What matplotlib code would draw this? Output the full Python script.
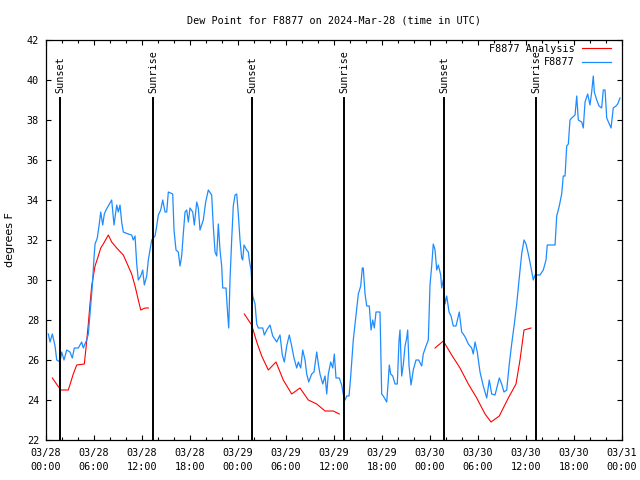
import numpy as np
import matplotlib
matplotlib.use("Agg")
import matplotlib.pyplot as plt

# hours since 2024-03-28 00:00 UTC
obs_hours = [0.29, 0.5, 0.79, 1.13, 1.34, 1.75, 1.96, 2.25, 2.59, 3.0, 3.29, 3.54, 4.04, 4.46, 4.66,
             5.09, 5.29, 5.5, 5.79, 6.0, 6.13, 6.41, 6.66, 6.84, 7.09, 7.29, 7.5, 7.79, 8.21, 8.5,
             8.84, 9.04, 9.25, 9.46, 9.66, 10.29, 10.71, 10.91, 11.13, 11.34, 11.54, 11.84, 12.09,
             12.29, 12.59, 12.79, 13.21, 13.63, 13.84, 14.04, 14.34, 14.59, 14.88, 15.09, 15.29,
             15.84, 16.0, 16.25, 16.54, 16.75, 16.96, 17.16, 17.38, 17.59, 17.79, 18.0, 18.34,
             18.54, 18.84, 19.04, 19.25, 19.46, 19.66, 19.96, 20.29, 20.71, 20.91, 21.13, 21.34,
             21.54, 21.75, 21.96, 22.09, 22.5, 22.71, 22.84, 23.0, 23.21, 23.41, 23.63, 23.84,
             24.04, 24.25, 24.46, 24.59, 24.75, 25.09, 25.29, 25.41, 25.63, 25.75, 25.84, 26.13,
             26.34, 26.54, 27.09, 27.29, 27.59, 28.0, 28.34, 28.84, 29.25, 29.54, 29.79, 30.09,
             30.41, 30.71, 31.0, 31.34, 31.54, 31.84, 32.09, 32.38, 32.59, 32.84, 33.21, 33.5,
             33.84, 34.04, 34.25, 34.59, 34.88, 35.09, 35.29, 35.59, 35.84, 36.04, 36.25, 36.66,
             36.96, 37.16, 37.38, 37.59, 37.88, 38.09, 38.41, 38.75, 39.04, 39.34, 39.54, 39.66,
             39.88, 40.09, 40.41, 40.63, 40.84, 41.04, 41.25, 41.75, 41.96, 42.16, 42.59, 42.79,
             42.91, 43.09, 43.34, 43.63, 43.91, 44.13, 44.25, 44.46, 44.66, 44.88, 45.09, 45.21,
             45.38, 45.63, 45.91, 46.25, 46.59, 46.96, 47.16, 47.5, 47.79, 48.0, 48.21, 48.41,
             48.63, 48.84, 49.04, 49.34, 49.46, 49.66, 49.88, 50.09, 50.38, 50.63, 50.91, 51.25,
             51.66, 51.96, 52.16, 52.46, 52.79, 53.21, 53.41, 53.63, 53.91, 54.25, 54.66, 55.09,
             55.41, 55.71, 56.13, 56.41, 56.66, 56.96, 57.25, 57.59, 57.91, 58.21, 58.54, 58.84,
             59.13, 59.46, 59.75, 60.0, 60.29, 60.59, 60.91, 61.13, 61.75, 62.16, 62.5, 62.66,
             63.63, 63.84, 64.16, 64.46, 64.66, 64.88, 65.09, 65.29, 65.5, 65.71, 66.13, 66.34,
             66.54, 66.96, 67.16, 67.38, 67.71, 68.0, 68.21, 68.41, 68.54, 68.84, 69.13, 69.46,
             69.66, 69.88, 70.09, 70.41, 70.63, 70.91, 71.25, 71.46, 71.75]
obs_dewpt = [27.3, 26.9, 27.3, 26.7, 26.0, 25.9, 26.4, 26.0, 26.5, 26.4, 26.1, 26.6, 26.6, 26.9, 26.6,
             27.0, 27.3, 28.3, 29.7, 31.1, 31.8, 32.1, 32.8, 33.4, 32.75, 33.3, 33.5, 33.7, 34.0, 32.75,
             33.75, 33.4, 33.75, 32.9, 32.4, 32.3, 32.25, 32.0, 32.2, 30.8, 30.0, 30.2, 30.5,
             29.75, 30.2, 31.0, 32.0, 32.2, 32.7, 33.25, 33.5, 34.0, 33.4, 33.4, 34.4,
             34.3, 32.5, 31.5, 31.4, 30.7, 31.2, 32.3, 33.4, 33.5, 32.9, 33.6, 33.4,
             32.75, 33.9, 33.6, 32.5, 32.75, 33.0, 33.9, 34.5, 34.25, 32.7, 31.4, 31.2,
             32.8, 31.5, 30.7, 29.6, 29.6, 28.3, 27.6, 30.0, 32.0, 33.7, 34.25, 34.3,
             33.3, 32.0, 31.1, 31.0, 31.75, 31.5, 31.4, 31.0, 30.5, 29.7, 29.2, 28.8,
             27.8, 27.6, 27.6, 27.25, 27.5, 27.75, 27.2, 26.9, 27.25, 26.25, 25.9, 26.7,
             27.25, 26.7, 26.1, 25.6, 25.9, 25.6, 26.5, 26.0, 25.3, 24.9, 25.3, 25.4,
             26.4, 25.8, 25.3, 24.8, 25.2, 24.3, 25.3, 25.9, 25.6, 26.3, 25.1, 25.1,
             24.75, 24.3, 24.0, 24.2, 24.2, 25.2, 27.0, 28.25, 29.3, 29.7, 30.6, 30.6,
             29.3, 28.7, 28.7, 27.5, 28.0, 27.6, 28.4, 28.4, 24.3, 24.2, 23.9, 25.0,
             25.75, 25.3, 25.2, 24.8, 24.8, 27.0, 27.5, 25.2, 25.75, 26.7, 27.1, 27.5,
             25.7, 24.75, 25.5, 26.0, 26.0, 25.7, 26.3, 26.7, 27.0, 29.75, 30.7, 31.8,
             31.5, 30.5, 30.75, 30.25, 29.6, 30.0, 28.8, 29.2, 28.4, 28.2, 27.7, 27.7,
             28.4, 27.4, 27.3, 27.1, 26.8, 26.6, 26.3, 26.9, 26.4, 25.4, 24.7, 24.1,
             25.0, 24.3, 24.25, 24.7, 25.1, 24.8, 24.4, 24.5, 25.8, 26.8, 27.8, 28.8,
             30.0, 31.3, 32.0, 31.8, 31.3, 30.7, 30.0, 30.25, 30.25, 30.5, 31.0, 31.75,
             31.75, 33.2, 33.7, 34.3, 35.2, 35.2, 36.7, 36.8, 38.0, 38.1, 38.25, 39.2,
             38.0, 37.9, 37.6, 38.9, 39.3, 38.75, 39.4, 40.2, 39.4, 39.0, 38.7, 38.6,
             39.5, 39.5, 38.1, 37.8, 37.6, 38.6, 38.7, 38.8, 39.1]

# analysis, nan = gap between runs
ana_hours = [0.79, 1.84, 2.79, 3.41, 3.84, 4.79, 5.0, 5.29, 5.5, 5.71, 6.13, 6.54, 6.84, 7.16,
             7.79, 8.21, 8.84, 9.66, 10.16, 10.71, 11.13, 11.54, 11.84, 12.38, 12.79, 18.0,
             24.79, 25.71, 26.34, 26.96, 27.79, 28.75, 29.66, 30.71, 31.75, 32.79, 33.84,
             34.88, 35.91, 36.66, 42.0,
             48.63, 49.66, 50.71, 51.75, 52.79, 53.84, 54.88, 55.63, 56.66, 57.79, 58.75,
             59.25, 59.75, 60.63]
ana_dewpt = [25.1, 24.5, 24.5, 25.3, 25.75, 25.8, 26.6, 27.8, 28.8, 29.7, 30.7, 31.2, 31.6, 31.8,
             32.25, 31.9, 31.6, 31.25, 30.8, 30.3, 29.7, 29.0, 28.5, 28.6, 28.6, np.nan,
             28.3, 27.75, 26.9, 26.2, 25.5, 25.9, 25.0, 24.3, 24.6, 24.0, 23.8,
             23.45, 23.45, 23.3, np.nan,
             26.6, 26.95, 26.25, 25.6, 24.8, 24.1, 23.3, 22.9, 23.2, 24.1, 24.8,
             26.0, 27.5, 27.6]

sun_hours = [1.79, 13.42, 25.79, 37.29, 49.8, 61.3]
sun_labels = ["Sunset", "Sunrise", "Sunset", "Sunrise", "Sunset", "Sunrise"]

xtick_hours = list(range(0, 73, 6))
xtick_labels = ["03/28\n00:00", "03/28\n06:00", "03/28\n12:00", "03/28\n18:00",
                "03/29\n00:00", "03/29\n06:00", "03/29\n12:00", "03/29\n18:00",
                "03/30\n00:00", "03/30\n06:00", "03/30\n12:00", "03/30\n18:00",
                "03/31\n00:00"]

mono = "DejaVu Sans Mono"
fs = 7.3

fig = plt.figure(figsize=(6.4, 4.8), dpi=100)
ax = fig.add_axes([46 / 640, 40 / 480, 576 / 640, 400 / 480])

ax.plot(ana_hours, ana_dewpt, color="#ff0000", lw=0.8, label="F8877 Analysis")
ax.plot(obs_hours, obs_dewpt, color="#1e8cff", lw=0.9, label="F8877")

for h, lab in zip(sun_hours, sun_labels):
    ax.axvline(h, ymin=0, ymax=0.855, color="black", lw=1.4)
    ax.text(h, 39.35, lab, rotation=90, ha="center", va="bottom",
            family=mono, fontsize=fs)

ax.set_xlim(0, 72)
ax.set_ylim(22, 42)
ax.set_xticks(xtick_hours)
ax.set_xticklabels(xtick_labels, family=mono, fontsize=fs, linespacing=1.5)
ax.set_xticks(range(0, 73, 2), minor=True)
ax.set_yticks(range(22, 43, 2))
ax.set_yticklabels([str(v) for v in range(22, 43, 2)], family=mono, fontsize=fs)
ax.tick_params(which="both", direction="in", top=True, right=True, width=0.8)
ax.tick_params(which="major", length=3.5, pad=5)
ax.tick_params(which="minor", length=2)
ax.tick_params(axis="x", pad=6)
for s in ax.spines.values():
    s.set_linewidth(0.9)

fig.text(10 / 640, 0.5, "degrees F", rotation=90, ha="center", va="center", fontsize=8)
ax.set_title("Dew Point for F8877 on 2024-Mar-28 (time in UTC)",
             family=mono, fontsize=fs, pad=12)

ax.legend(loc="upper right", bbox_to_anchor=(0.985, 0.995), frameon=False,
          markerfirst=False, handlelength=2.9, handletextpad=0.7,
          labelspacing=0.3, borderaxespad=0, borderpad=0.2,
          prop={"family": mono, "size": fs})

fig.savefig("out.png", dpi=100)
